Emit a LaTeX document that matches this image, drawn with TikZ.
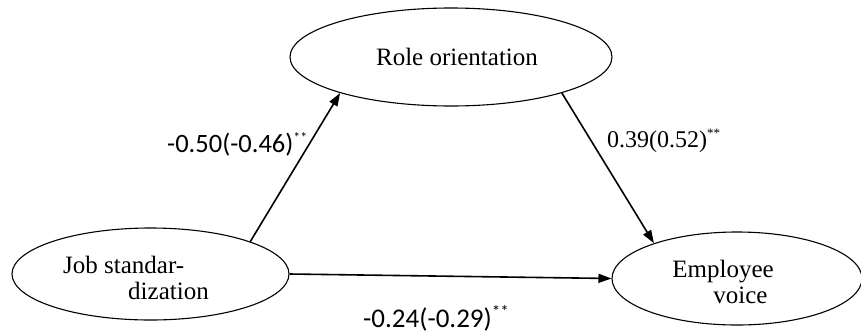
\documentclass[tikz,border=0pt]{standalone}
\usepackage{fontspec}
\setmainfont{Liberation Serif}
\newfontfamily\calibrifont{Carlito}
\usetikzlibrary{shapes.geometric,arrows.meta}
\tikzset{
  var/.style={draw,ellipse,line width=1.1pt,inner sep=0pt},
  path/.style={line width=1.6pt,-{Triangle[length=13pt,width=9pt]}},
  vartext/.style={font=\fontsize{25}{26}\selectfont,align=left,inner sep=0pt},
  coef/.style={anchor=base west,inner sep=0pt,font=\calibrifont\fontsize{26.5}{28}\selectfont},
}
\begin{document}
\begin{tikzpicture}[x=1pt,y=-1pt]
  \useasboundingbox (0,0) rectangle (861,335);
  % latent variables
  \node[var,minimum width=322pt,minimum height=98pt] (role) at (451,57) {};
  \node[var,minimum width=277pt,minimum height=92pt] (job) at (150.5,274) {};
  \node[var,minimum width=250pt,minimum height=93pt] (voice) at (737,278.5) {};
  \node[vartext] (roletext) at (457,57) {Role orientation};
  \node[vartext] (jobtext) at (136,278) {Job standar-\\\hspace*{65pt}dization};
  \node[vartext] (voicetext) at (723,282) {Employee\\\hspace*{41pt}voice};
  % paths
  \draw[path] (job.18) -- (role.198);
  \draw[path] (role.342.6) -- (voice.157.8);
  \draw[path] (job.0) -- (voice.180);
  % coefficients
  \node[coef] (a) at (167,152) {-0.50(-0.46)\textsuperscript{\fontsize{14}{14}\selectfont**}};
  \node[coef,font=\fontsize{24}{26}\selectfont] (b) at (607,147) {0.39(0.52)\textsuperscript{\fontsize{13}{13}\selectfont**}};
  \node[coef,font=\calibrifont\fontsize{27}{28}\selectfont] (c) at (363,327) {-0.24(-0.29)\textsuperscript{\fontsize{17}{17}\selectfont**}};
\end{tikzpicture}
\end{document}
